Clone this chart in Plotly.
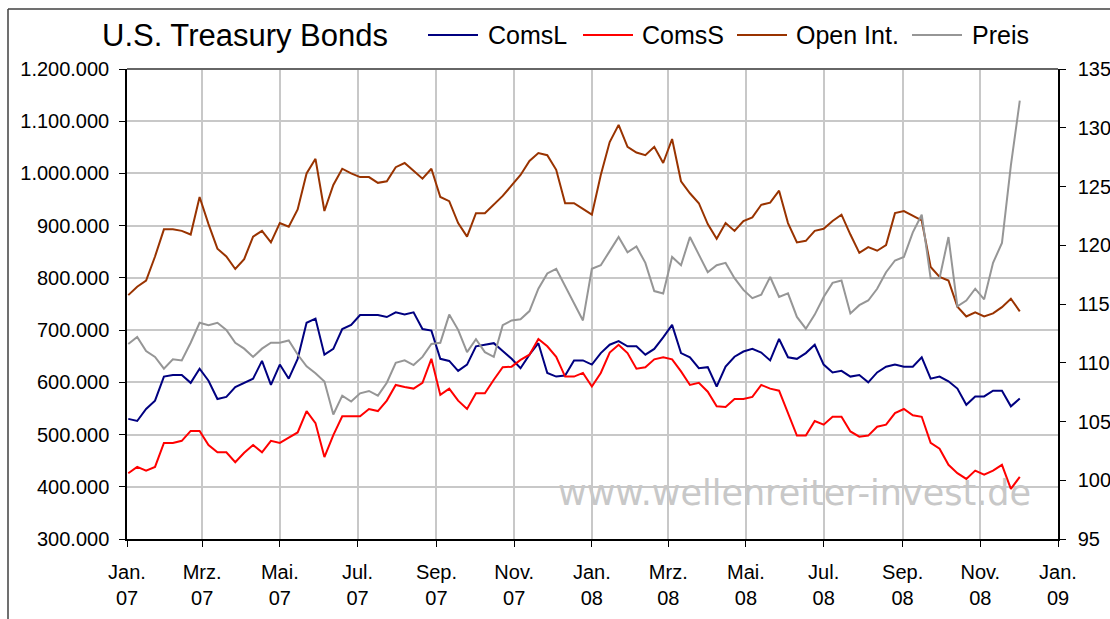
import pandas as pd
import plotly.graph_objects as go

# weekly COT data, U.S. Treasury Bonds, Jan 2007 - Dec 2008
dates = pd.date_range(start="2007-01-02", periods=101, freq="7D")

coms_l = [
    530, 526, 549, 565, 611, 614, 614, 599, 626, 603, 568, 572, 591, 599, 607, 641, 595, 634, 607, 645,
    714, 722, 653, 664, 702, 710, 729, 729, 729, 725, 734, 730, 734, 702, 699, 645, 641, 622, 634, 669,
    672, 675, 660, 645, 627, 653, 675, 618, 611, 613, 642, 642, 634, 656, 672, 679, 669, 669, 653, 664,
    686, 710, 656, 648, 627, 629, 592, 630, 649, 659, 664, 657, 642, 683, 648, 645, 656, 672, 634, 619,
    622, 611, 614, 600, 619, 630, 634, 630, 630, 648, 607, 611, 602, 588, 557, 573, 573, 584, 584, 554,
    569,
]
coms_s = [
    426, 438, 431, 438, 484, 484, 488, 507, 507, 480, 466, 466, 447, 465, 480, 466, 488, 484, 494, 504,
    545, 522, 457, 499, 535, 535, 535, 549, 545, 565, 595, 591, 588, 599, 645, 576, 588, 565, 549, 579,
    579, 605, 629, 630, 643, 653, 683, 669, 649, 611, 611, 618, 592, 618, 657, 672, 656, 626, 629, 644,
    648, 644, 621, 595, 599, 582, 554, 553, 568, 568, 572, 595, 588, 584, 541, 498, 498, 526, 519, 534,
    534, 506, 496, 498, 515, 519, 541, 549, 537, 534, 484, 473, 442, 426, 415, 431, 423, 431, 442, 396,
    419,
]
open_int = [
    767, 783, 795, 841, 893, 893, 890, 883, 955, 903, 856, 841, 817, 836, 879, 890, 868, 905, 898, 931,
    1000, 1028, 928, 978, 1009, 1000, 993, 993, 982, 985, 1012, 1020, 1005, 990, 1009, 955, 947, 905, 879, 924,
    924, 940, 957, 977, 997, 1024, 1039, 1035, 1007, 943, 943, 932, 921, 997, 1060, 1093, 1051, 1040, 1035, 1051,
    1020, 1066, 985, 962, 943, 903, 875, 905, 890, 909, 916, 940, 944, 967, 905, 868, 871, 890, 894, 909,
    921, 883, 848, 859, 852, 863, 924, 928, 919, 910, 821, 802, 795, 745, 726, 734, 726, 732, 744, 760,
    736,
]
preis = [
    111.6, 112.2, 111.0, 110.5, 109.5, 110.3, 110.2, 111.7, 113.4, 113.2, 113.4, 112.8, 111.7, 111.2, 110.5,
    111.2, 111.7, 111.7, 111.9, 110.7, 109.7, 109.1, 108.4, 105.6, 107.2, 106.7, 107.4, 107.6, 107.2, 108.3,
    110.0, 110.2, 109.8, 110.5, 111.6, 111.7, 114.1, 112.8, 110.9, 112.0, 110.9, 110.5, 113.2, 113.6, 113.7,
    114.4, 116.3, 117.6, 118.0, 116.5, 115.1, 113.6, 118.0, 118.3, 119.5, 120.7, 119.4, 119.9, 118.5, 116.1,
    115.9, 119.0, 118.3, 120.7, 119.2, 117.7, 118.3, 118.5, 117.2, 116.2, 115.5, 115.8, 117.3, 115.6, 115.9,
    113.9, 112.9, 114.1, 115.6, 116.8, 117.0, 114.2, 114.9, 115.3, 116.3, 117.7, 118.7, 119.0, 121.1, 122.6,
    117.2, 117.2, 120.7, 114.8, 115.3, 116.3, 115.4, 118.5, 120.2, 126.8, 132.3,
]

tick_dates = pd.date_range(start="2007-01-01", end="2009-01-01", freq="2MS")
tick_months = ["Jan.", "Mrz.", "Mai.", "Jul.", "Sep.", "Nov."]
tick_text = [f"{tick_months[i % 6]}<br>{d.strftime('%y')}" for i, d in enumerate(tick_dates)]

FONT = "Liberation Sans, Arial, sans-serif"

series = [
    ("ComsL", [v * 1000 for v in coms_l], "#000080", "y"),
    ("ComsS", [v * 1000 for v in coms_s], "#ff0000", "y"),
    ("Open Int.", [v * 1000 for v in open_int], "#993300", "y"),
    ("Preis", preis, "#969696", "y2"),
]

fig = go.Figure()
for name, vals, color, axis in series:
    fig.add_trace(go.Scatter(
        x=dates, y=vals, name=name, mode="lines", yaxis=axis,
        line=dict(color=color, width=2),
    ))

W, H = 1110, 619
# plot area in window pixels: x 127..1058, y 69..539
L, R, T, B = 127, 1058, 69, 539


def px(x):
    return (x - L) / (R - L)


def py(y):
    return (B - y) / (B - T)


shapes = []
annotations = []

# hand-drawn legend row next to the title
legend_pos = [(428, 486), (583, 640), (737, 794), (912, 970)]
for (name, _, color, _), (x0, xt) in zip(series, legend_pos):
    shapes.append(dict(type="line", xref="paper", yref="paper",
                       x0=px(x0), x1=px(x0 + 50), y0=py(35), y1=py(35),
                       line=dict(color=color, width=2)))
    annotations.append(dict(text=name, xref="paper", yref="paper", x=px(xt), y=py(35),
                            xanchor="left", yanchor="middle", showarrow=False,
                            font=dict(family=FONT, size=25, color="#000000")))

annotations.append(dict(text="U.S. Treasury Bonds", xref="paper", yref="paper",
                        x=px(100), y=py(35), xanchor="left", yanchor="middle", showarrow=False,
                        font=dict(family=FONT, size=31, color="#000000")))
annotations.append(dict(text="www.wellenreiter-invest.de", xref="paper", yref="paper",
                        x=px(794), y=py(493), xanchor="center", yanchor="middle", showarrow=False,
                        font=dict(family="DejaVu Sans, sans-serif", size=35, color="#c8c8c8")))

# outer frame (left and top) and dark top edge of plot area
shapes.append(dict(type="line", xref="paper", yref="paper", x0=px(8), x1=px(8), y0=py(625), y1=py(9),
                   line=dict(color="#404040", width=1.5)))
shapes.append(dict(type="line", xref="paper", yref="paper", x0=px(8), x1=px(1115), y0=py(9), y1=py(9),
                   line=dict(color="#404040", width=1.5)))
shapes.append(dict(type="line", xref="paper", yref="paper", x0=0, x1=1, y0=1, y1=1,
                   line=dict(color="#666666", width=2)))

axis_common = dict(
    showline=True, linecolor="#000000", linewidth=1.5,
    ticks="outside", ticklen=6, tickcolor="#000000",
    tickfont=dict(size=20), zeroline=False, automargin=False,
)

fig.update_layout(
    width=W, height=H,
    margin=dict(l=L, r=W - R, t=T, b=H - B),
    paper_bgcolor="white", plot_bgcolor="white",
    separators=",.",
    showlegend=False,
    font=dict(family=FONT, size=20, color="#000000"),
    shapes=shapes,
    annotations=annotations,
    xaxis=dict(
        range=["2007-01-01", "2009-01-01"],
        tickvals=tick_dates, ticktext=tick_text,
        showgrid=True, gridcolor="#c8c8c8", gridwidth=1.5,
        ticklabelstandoff=8, **axis_common,
    ),
    yaxis=dict(
        range=[300000, 1200000], dtick=100000, tickformat=",d",
        showgrid=True, gridcolor="#c8c8c8", gridwidth=1.5,
        ticklabelstandoff=6, **axis_common,
    ),
    yaxis2=dict(
        range=[95, 135], dtick=5, overlaying="y", side="right",
        showgrid=False, ticklabelstandoff=8, **axis_common,
    ),
)

# drop the default page margin so the figure fills the window exactly
fig.write_html("out.html", config={"displayModeBar": False},
               post_script="document.body.style.margin = '0';")
